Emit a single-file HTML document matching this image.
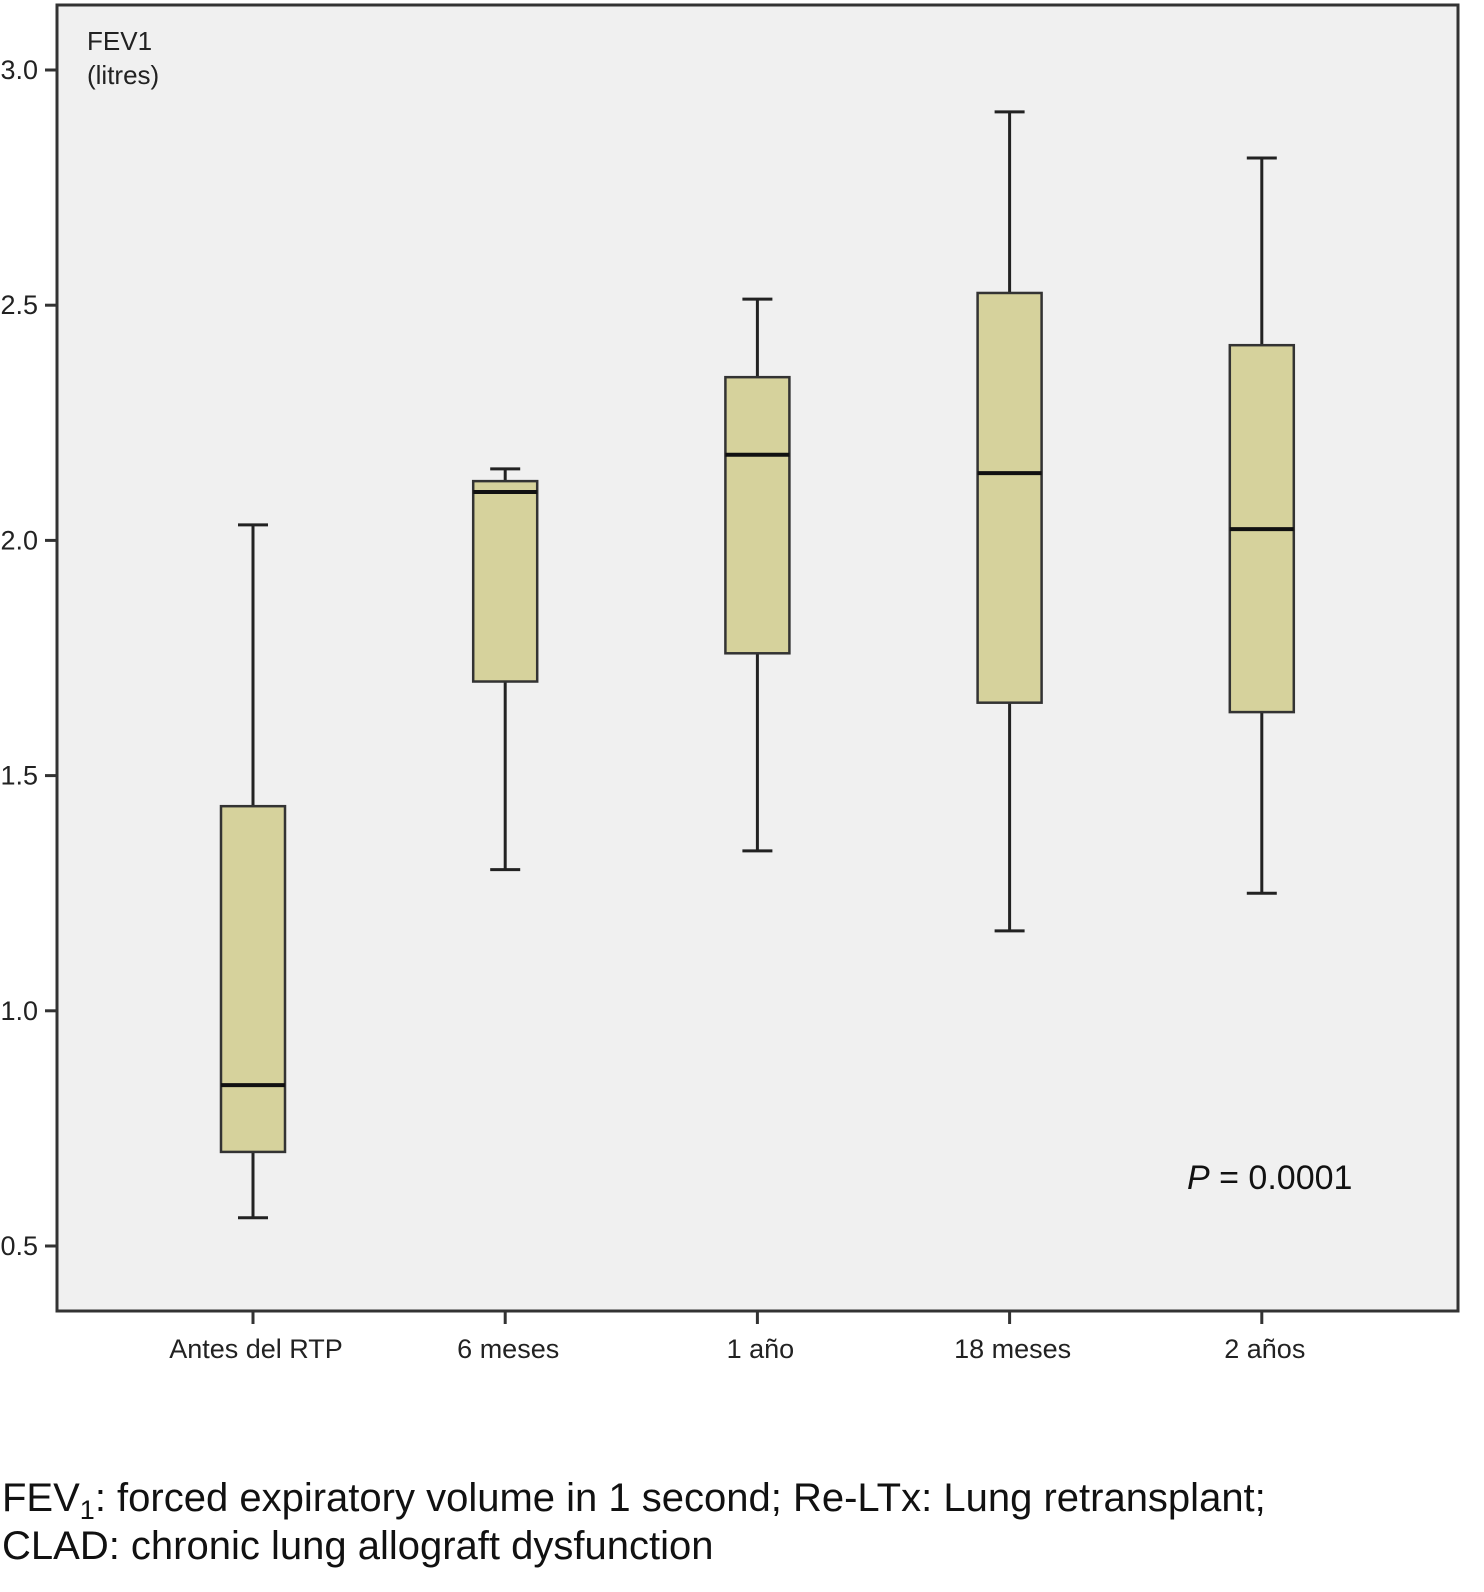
<!DOCTYPE html>
<html><head><meta charset="utf-8"><style>
body{margin:0;background:#fff;width:1484px;height:1592px;overflow:hidden;font-family:"Liberation Sans",sans-serif;}
#cap{position:absolute;left:2px;top:1474px;font-size:40px;line-height:48px;color:#111;white-space:nowrap;}
#cap sub{font-size:27px;line-height:0;vertical-align:-8px;}
</style></head><body>
<svg id="chart" width="1484" height="1440" style="position:absolute;left:0;top:0" font-family="Liberation Sans, sans-serif"></svg>
<div id="cap">FEV<sub>1</sub>: forced expiratory volume in 1 second; Re-LTx: Lung retransplant;<br>CLAD: chronic lung allograft dysfunction</div>
<script>
const categories=["Antes del RTP","6 meses","1 año","18 meses","2 años"];
const mins=[0.56,1.30,1.34,1.17,1.25];
const q1s=[0.70,1.70,1.76,1.655,1.635];
const medians=[0.842,2.103,2.182,2.143,2.024];
const q3s=[1.435,2.126,2.347,2.526,2.415];
const maxs=[2.033,2.152,2.513,2.911,2.813];
const yTicks=[0.5,1.0,1.5,2.0,2.5,3.0];
const NS="http://www.w3.org/2000/svg";
const svg=document.getElementById('chart');
const y=v=>70+(3-v)*470.4;
const x=i=>253+i*252.2;
function mk(t,a,p){const e=document.createElementNS(NS,t);for(const k in a)e.setAttribute(k,a[k]);(p||svg).appendChild(e);return e;}
const frame=mk('rect',{x:57,y:5,width:1401,height:1306,fill:'#f0f0f0',stroke:'#333','stroke-width':3});


yTicks.forEach(v=>{
  const l=mk('line',{x1:45,x2:57,y1:y(v),y2:y(v),stroke:'#333','stroke-width':3});
  
  
  const t=mk('text',{x:38,y:y(v)+9,'text-anchor':'end','font-size':27,fill:'#222'});
  t.textContent=v.toFixed(1);
  
  
});
categories.forEach((c,i)=>{
  const cx=x(i),w=32,cw=15;
  const g=mk('g',{});
  
  
  mk('line',{x1:cx,x2:cx,y1:y(maxs[i]),y2:y(q3s[i]),stroke:'#222','stroke-width':3},g);
  mk('line',{x1:cx,x2:cx,y1:y(q1s[i]),y2:y(mins[i]),stroke:'#222','stroke-width':3},g);
  mk('line',{x1:cx-cw,x2:cx+cw,y1:y(maxs[i]),y2:y(maxs[i]),stroke:'#222','stroke-width':3},g);
  mk('line',{x1:cx-cw,x2:cx+cw,y1:y(mins[i]),y2:y(mins[i]),stroke:'#222','stroke-width':3},g);
  mk('rect',{x:cx-w,y:y(q3s[i]),width:2*w,height:y(q1s[i])-y(q3s[i]),fill:'#d6d29c',stroke:'#333','stroke-width':2.5},g);
  mk('line',{x1:cx-w,x2:cx+w,y1:y(medians[i]),y2:y(medians[i]),stroke:'#111','stroke-width':4},g);
  const tk=mk('line',{x1:cx,x2:cx,y1:1311,y2:1324,stroke:'#333','stroke-width':3});
  
  
  const t=mk('text',{x:cx+3,y:1358,'text-anchor':'middle','font-size':27,fill:'#222'});
  t.textContent=c;
  
  
});
const a1=mk('text',{x:87,y:50,'font-size':26,fill:'#222'});a1.textContent='FEV1';


const a2=mk('text',{x:87,y:84,'font-size':26,fill:'#222'});a2.textContent='(litres)';


const p=mk('text',{x:1187,y:1189,'font-size':34,fill:'#111'});
p.innerHTML='<tspan font-style="italic">P</tspan> = 0.0001';


</script>
</body></html>
